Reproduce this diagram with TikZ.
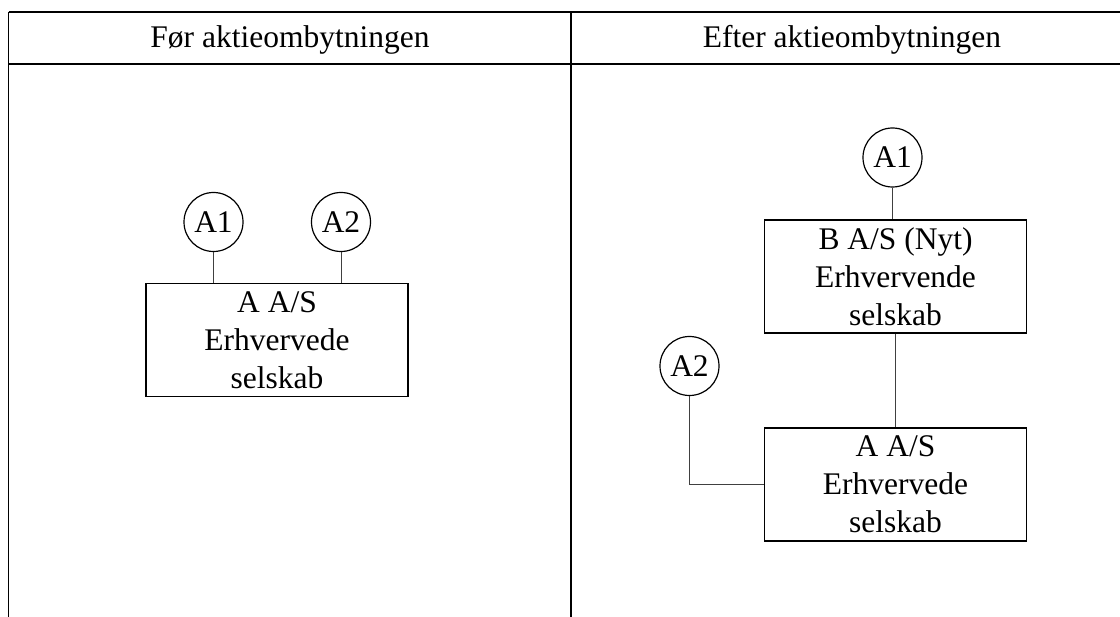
\documentclass[tikz,border=0pt]{standalone}
\usepackage{fontspec}
\setmainfont{Liberation Serif}
\begin{document}
\begin{tikzpicture}[x=1pt,y=-1pt,
  txt/.style={font=\fontsize{31.5}{38}\selectfont},
  company/.style={draw=black, line width=1.3pt, minimum width=262pt, minimum height=113pt, inner sep=0pt, align=center, txt},
  owner/.style={draw=black, line width=1.2pt, circle, minimum size=59pt, inner sep=0pt, txt},
  link/.style={draw=black!75, line width=1pt},
  rule/.style={draw=black, line width=1.6pt}]
\useasboundingbox (0,0) rectangle (1120,617);
% table frame
\coordinate (tl) at (8.5,12);
\coordinate (tr) at (1120,12);
\coordinate (hl) at (8.5,64);
\coordinate (hr) at (1120,64);
\coordinate (bl) at (8.5,617);
\coordinate (tm) at (571,12);
\coordinate (bm) at (571,617);
\draw[rule, line width=2.2pt] (tl) -- (tr);
\draw[rule] (hl) -- (hr);
\draw[rule] (tl) -- (bl);
\draw[rule] (tm) -- (bm);
% headers
\node[txt, anchor=base] (h1) at (290,47.5) {Før aktieombytningen};
\node[txt, anchor=base] (h2) at (852,47.5) {Efter aktieombytningen};
% left: before
\node[company] (lA) at (277,340) {A A/S\\Erhvervede\\selskab};
\node[owner] (lA1) at (213.5,222) {A1};
\node[owner] (lA2) at (341,222) {A2};
\draw[link] (lA1) -- (lA1 |- lA.north);
\draw[link] (lA2) -- (lA2 |- lA.north);
% right: after
\node[company] (rB) at (895.5,276.5) {B A/S (Nyt)\\Erhvervende\\selskab};
\node[company] (rA) at (895.5,484.5) {A A/S\\Erhvervede\\selskab};
\node[owner] (rA1) at (892.5,157.5) {A1};
\node[owner] (rA2) at (689.5,366) {A2};
\draw[link] (rA1) -- (rA1 |- rB.north);
\draw[link] (rB) -- (rA);
\draw[link] (rA2) |- (rA.west);
\end{tikzpicture}
\end{document}
